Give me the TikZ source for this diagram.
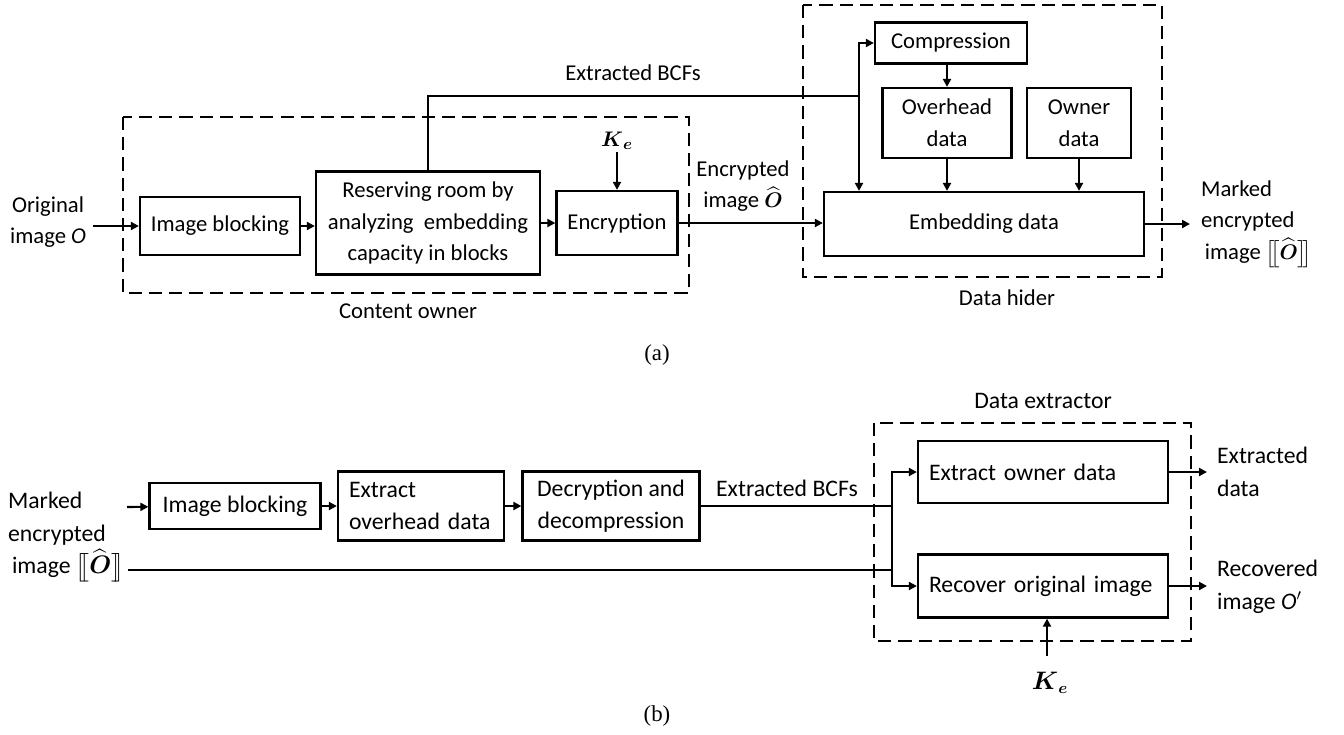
\documentclass[tikz,border=0pt]{standalone}
\usepackage{amsmath,amssymb}
\usepackage{fontspec}
\setmainfont{Carlito}
\newfontfamily\capfont{Liberation Serif}
\usetikzlibrary{arrows.meta,calc}
\newcommand{\keyKe}{$\boldsymbol{K}_{\boldsymbol{e}}$}
\newcommand{\markedO}{\smash{$\big[\mkern-4.5mu\big[\widehat{\boldsymbol{O}}\big]\mkern-4.5mu\big]$}}

\begin{document}
\begin{tikzpicture}[x=0.02cm,y=-0.02cm,
  font=\fontsize{12.9}{18}\selectfont,
  blk/.style={draw,line width=1.3pt,inner sep=2pt,align=center},
  sz/.style 2 args={minimum width=#1*0.02cm,minimum height=#2*0.02cm},
  lblk/.style={blk,align=left,inner xsep=0.22cm,text width=#1*0.02cm-0.44cm},
  lbl/.style={inner sep=1pt,align=center},
  arr/.style={line width=1.2pt,-{Triangle[length=4.5pt,width=4.5pt]}},
  wire/.style={line width=1.2pt},
  dashbox/.style={line width=1.2pt,dash pattern=on 7.5pt off 4pt}]
\useasboundingbox (0,0) rectangle (1344,734);
% (a) content owner and data hider
\node [blk,sz={160}{58}] (ib1) at (220,226) {Image blocking};
\node [blk,sz={224}{103}] (res) at (428,223) {Reserving room by\\analyzing~ embedding\\capacity in blocks};
\node [blk,sz={121}{64}] (enc) at (617,223) {Encryption};
\node [blk,sz={320}{64}] (emb) at (984,224) {Embedding data};
\node [blk,sz={152}{41}] (cmp) at (951,43) {Compression};
\node [blk,sz={129}{70}] (ovh) at (947,123) {Overhead\\data};
\node [blk,sz={104}{70}] (own) at (1079,123) {Owner\\data};
\node [lbl,anchor=west] (orig) at (8,222) {Original\\image \textit{O}};
\node [lbl] (ke1) at (617,141) {\keyKe};
\node [lbl] (encimg) at (743,186) {Encrypted\\image \smash{$\widehat{\boldsymbol{O}}$}};
\node [lbl] (bcf1) at (633,73) {Extracted BCFs};
\node [lbl,anchor=west,align=left] (mark1) at (1199,222) {Marked\\encrypted\\\,image \markedO};
\coordinate (tap) at (859,96);
\coordinate (out1) at (1190,224);
%
\draw [dashbox] (123,117) rectangle (689,293);
\node [lbl] (cowner) at (408,311) {Content owner};
\draw [dashbox] (803,5) rectangle (1162,277);
\node [lbl] (dhider) at (1007,298) {Data hider};
%
\draw [arr] ([xshift=0.1cm]orig.east |- ib1) -- (ib1);
\draw [arr] (ib1) -- (ib1 -| res.west);
\draw [arr] (res.east |- enc) -- (enc);
\draw [arr] (ke1) -- (enc);
\draw [arr] (enc) -- (enc -| emb.west);
\draw [wire] (res.north) |- (tap);
\draw [arr] (tap) -- (tap |- emb.north);
\draw [arr] (tap) |- (cmp.west);
\draw [arr] (cmp.south -| ovh) -- (ovh.north);
\draw [arr] (ovh) -- (ovh |- emb.north);
\draw [arr] (own) -- (own |- emb.north);
\draw [arr] (emb) -- (out1);
\node [font=\capfont\fontsize{13}{15}\selectfont] (capa) at (657,355) {(a)};
% (b) data extractor
\begin{scope}[font=\fontsize{13.5}{18.5}\selectfont]
\node [lbl,anchor=west,align=left] (mark2) at (6,535) {Marked\\encrypted\\\,image \markedO};
\coordinate (in2) at (127,507);
\coordinate (in3) at (128,570);
\node [blk,sz={171}{46}] (ib2) at (235,506) {Image blocking};
\node [lblk=166,sz={166}{69}] (exo) at (421,506) {Extract\\overhead data};
\node [blk,sz={177}{69}] (dec) at (611,506) {Decryption and\\decompression};
\node [lblk=250,sz={250}{62}] (eod) at (1043,472) {Extract owner data};
\node [lblk=250,sz={250}{63}] (rec) at (1043,586) {Recover original image};
\node [lbl] (bcf2) at (787,488) {Extracted BCFs};
\node [lbl,anchor=west,align=left] (xdata) at (1215,472) {Extracted\\data};
\node [lbl,anchor=west,align=left] (rimg) at (1215,587) {Recovered\\image \textit{O}$'$};
\node [lbl] (ke2) at (1050,683) {\keyKe};
\coordinate (jn) at (892,506);
%
\draw [dashbox] (874,423) rectangle (1191,641);
\node [lbl] (dext) at (1043,401) {Data extractor};
%
\draw [arr] (in2) -- (ib2);
\draw [arr] (ib2) -- (ib2 -| exo.west);
\draw [arr] (exo) -- (exo -| dec.west);
\draw [wire] (dec) -- (jn);
\draw [wire] (in3) -- (in3 -| jn);
\draw [arr] (jn) |- (eod.west);
\draw [arr] (jn) |- (rec.west);
\draw [arr] (eod) -- (eod -| 1207,0);
\draw [arr] (rec) -- (rec -| 1207,0);
\draw [arr,shorten <=0.28cm] ([xshift=-0.06cm]ke2.north) -- ([xshift=-0.06cm]ke2.north |- rec.south);
\end{scope}
\node [font=\capfont\fontsize{13}{15}\selectfont] (capb) at (657,716) {(b)};
\end{tikzpicture}
\end{document}
